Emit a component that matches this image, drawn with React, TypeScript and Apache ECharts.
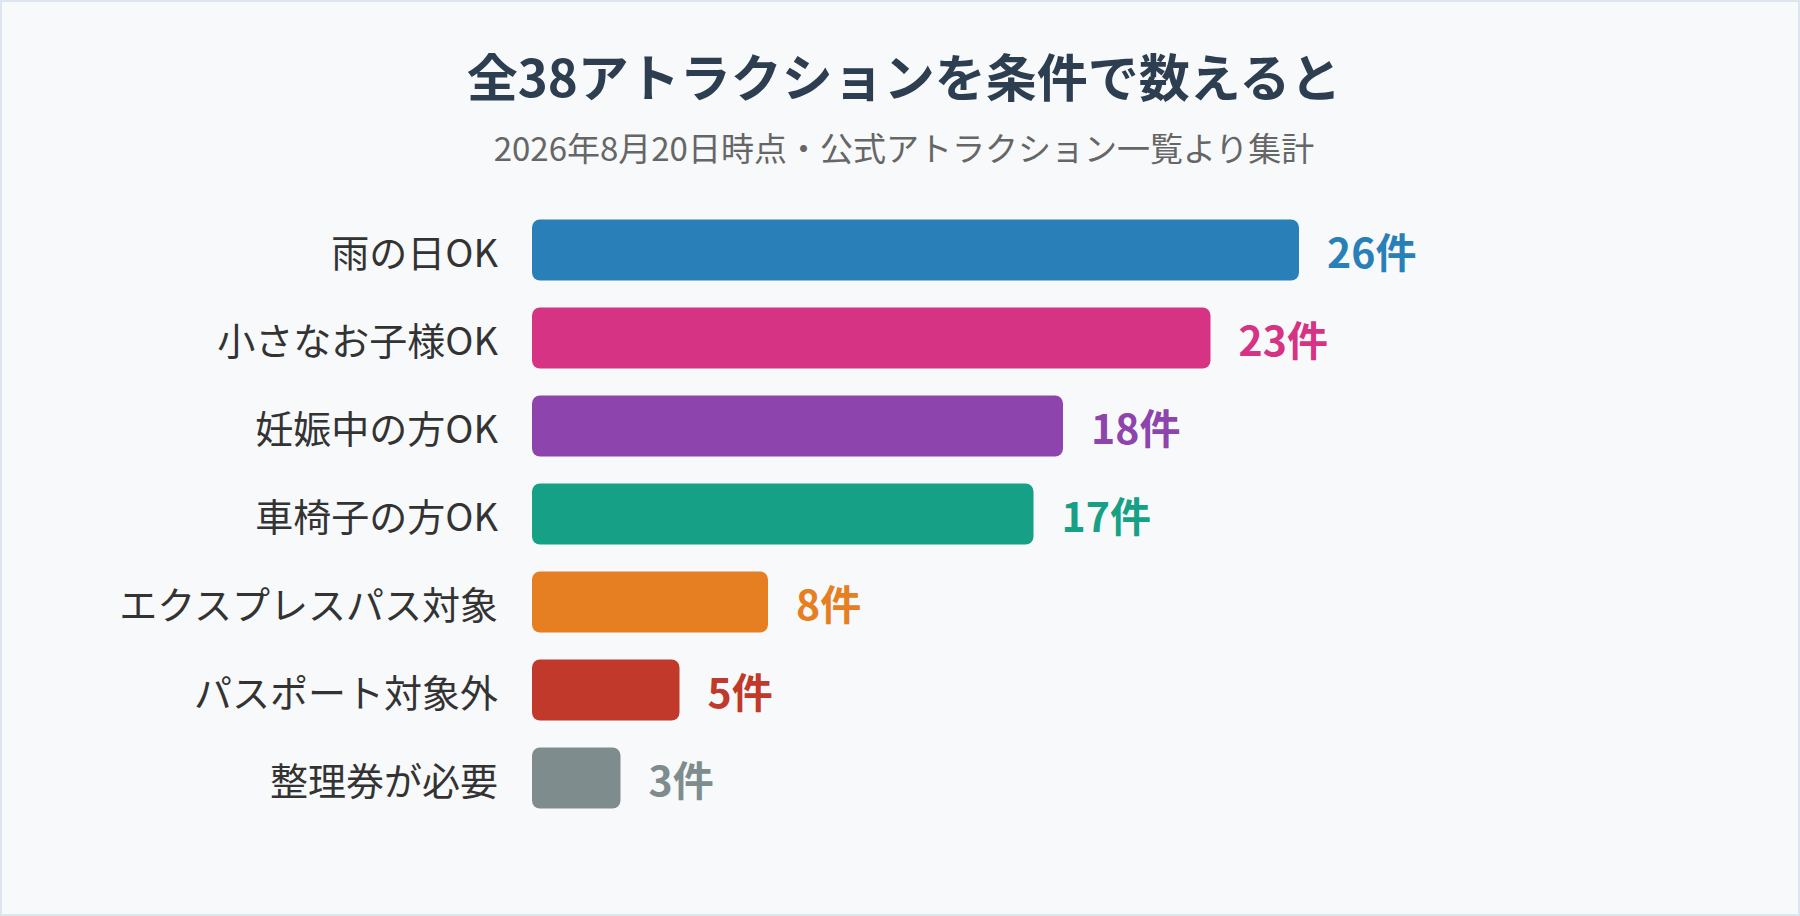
import { useEffect, useRef } from 'react';
import * as echarts from 'echarts';

const categories = [
  '雨の日OK',
  '小さなお子様OK',
  '妊娠中の方OK',
  '車椅子の方OK',
  'エクスプレスパス対象',
  'パスポート対象外',
  '整理券が必要',
];
const counts = [26, 23, 18, 17, 8, 5, 3];
const colors = ['#2980b9', '#d63384', '#8e44ad', '#16a085', '#e67e22', '#c0392b', '#7f8c8d'];

const FONT = '"Noto Sans CJK JP", "Noto Sans", sans-serif';

export default function App() {
  const chartRef = useRef<HTMLDivElement>(null);

  useEffect(() => {
    if (!chartRef.current) return;
    const chart = echarts.init(chartRef.current, undefined, { renderer: 'svg' });

    const option: echarts.EChartsOption = {
      animation: false,
      title: [
        {
          text: '全38アトラクションを条件で数えると',
          left: 899,
          top: 44,
          textAlign: 'center',
          textStyle: { fontFamily: FONT, fontSize: 51, fontWeight: 'bold', color: '#2c3e50' },
        },
        {
          text: '2026年8月20日時点・公式アトラクション一覧より集計',
          left: 899,
          top: 125,
          textAlign: 'center',
          textStyle: { fontFamily: FONT, fontSize: 33, fontWeight: 'normal', color: '#666666' },
        },
      ],
      grid: { left: 532, right: 383, top: 206, bottom: 94, containLabel: false },
      xAxis: {
        type: 'value',
        min: 0,
        max: 30,
        show: false,
      },
      yAxis: {
        type: 'category',
        inverse: true,
        data: categories,
        axisLine: { show: false },
        axisTick: { show: false },
        axisLabel: { fontFamily: FONT, fontSize: 38, color: '#333333', margin: 34 },
      },
      series: [
        {
          type: 'bar',
          barWidth: 61,
          data: counts.map((v, i) => ({
            value: v,
            itemStyle: { color: colors[i], borderRadius: 8 },
            label: { color: colors[i] },
          })),
          label: {
            show: true,
            position: 'right',
            distance: 28,
            formatter: '{c}件',
            fontFamily: FONT,
            fontSize: 41,
            fontWeight: 'bold',
          },
        },
      ],
    };

    chart.setOption(option);
    return () => chart.dispose();
  }, []);

  return (
    <div
      style={{
        position: 'fixed',
        left: 0,
        top: 0,
        width: 1800,
        height: 916,
        boxSizing: 'border-box',
        border: '2px solid #dde6ee',
        background: '#f7f9fb',
      }}
    >
      <div ref={chartRef} style={{ position: 'absolute', left: -2, top: -2, width: 1800, height: 916 }} />
    </div>
  );
}
